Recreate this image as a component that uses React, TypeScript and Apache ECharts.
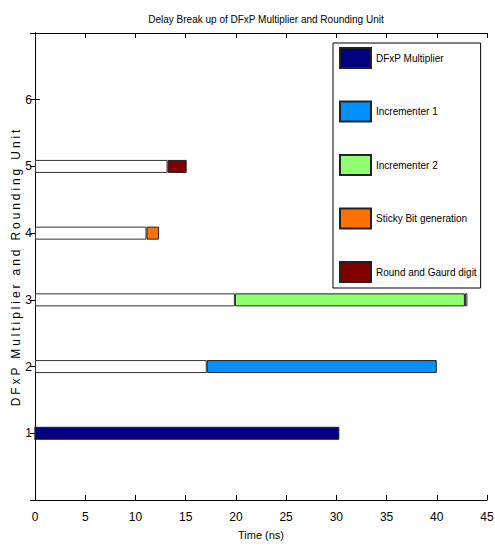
import React, { useEffect, useRef } from "react";
import * as echarts from "echarts";

const yCategories = ["0", "1", "2", "3", "4", "5", "6", "7"];
const blankStart = ["-", 0, 17.1, 19.9, 11.1, 13.2, "-", "-"];
const dfxpMultiplier = ["-", 30.3, "-", "-", "-", "-", "-", "-"];
const incrementer1 = ["-", "-", 22.9, "-", "-", "-", "-", "-"];
const incrementer2 = ["-", "-", "-", 22.9, "-", "-", "-", "-"];
const stickyBit = ["-", "-", "-", "-", 1.25, "-", "-", "-"];
const roundGuard = ["-", "-", "-", "-", "-", 1.9, "-", "-"];
const tailBlank = ["-", "-", "-", 0.25, "-", "-", "-", "-"];

const FONT = "'Liberation Sans Narrow', 'Arial Narrow', 'Liberation Sans', sans-serif";
const Y_NAME = "DFxP Multiplier and Rounding Unit";

export default function App() {
  const ref = useRef<HTMLDivElement>(null);
  useEffect(() => {
    if (!ref.current) return;
    const chart = echarts.init(ref.current, null, { renderer: "svg" });
    const barW = 13;
    const mk = (name: string, data: any[], color: string, border = "#222") => ({
      name,
      type: "bar",
      stack: "total",
      barWidth: barW,
      data,
      itemStyle: { color, borderColor: border, borderWidth: 1 },
      xAxisIndex: 0,
      yAxisIndex: 0,
    });
    chart.setOption({
      animation: false,
      backgroundColor: "#fff",
      textStyle: { fontFamily: FONT },
      title: {
        text: "Delay Break up of DFxP Multiplier and Rounding Unit",
        left: 261,
        top: 9,
        textAlign: "center",
        textStyle: { fontFamily: FONT, fontSize: 10, fontWeight: "normal", color: "#000" },
      },
      grid: { left: 35, right: 8, top: 33, bottom: 48, containLabel: false, outerBoundsMode: "none" },
      legend: {
        orient: "vertical",
        left: 333,
        top: 43,
        icon: "rect",
        itemWidth: 31,
        itemHeight: 20,
        itemGap: 31.5,
        padding: [4, 4, 5, 6],
        borderColor: "#000",
        borderWidth: 1,
        backgroundColor: "#fff",
        textStyle: { fontFamily: FONT, fontSize: 10, color: "#000" },
        data: [
          "DFxP Multiplier",
          "Incrementer 1",
          "Incrementer 2",
          "Sticky Bit generation",
          "Round and Gaurd digit",
        ],
      },
      xAxis: [
        {
          type: "value",
          min: 0,
          max: 45,
          interval: 5,
          position: "bottom",
          name: "Time (ns)",
          nameLocation: "middle",
          nameGap: 29,
          nameTextStyle: { fontFamily: FONT, fontSize: 11, color: "#000" },
          axisLine: { show: true, lineStyle: { color: "#000", width: 1 } },
          axisTick: { show: true, inside: true, length: 5, lineStyle: { color: "#000" } },
          axisLabel: { fontFamily: FONT, fontSize: 12, color: "#000", margin: 11 },
          splitLine: { show: false },
        },
        {
          type: "value",
          min: 0,
          max: 45,
          interval: 5,
          position: "top",
          axisLine: { show: true, lineStyle: { color: "#000", width: 1 } },
          axisTick: { show: true, inside: true, length: 5, lineStyle: { color: "#000" } },
          axisLabel: { show: false },
          splitLine: { show: false },
        },
      ],
      yAxis: [
        {
          type: "category",
          data: yCategories,
          boundaryGap: false,
          position: "left",
          name: Y_NAME,
          nameLocation: "middle",
          nameRotate: 90,
          nameGap: 13,
          nameMoveOverlap: false,
          nameTextStyle: { fontFamily: FONT, fontSize: 12, color: "#000" },
          axisLine: { show: true, lineStyle: { color: "#000", width: 1 } },
          axisTick: { show: true, inside: true, length: 5, lineStyle: { color: "#000" } },
          axisLabel: {
            fontFamily: FONT,
            fontSize: 12,
            color: "#000",
            margin: 3,
            formatter: (v: string) => (v === "0" || v === "7" ? "" : v),
          },
          splitLine: { show: false },
        },
        {
          type: "category",
          data: yCategories,
          boundaryGap: false,
          position: "right",
          axisLine: { show: true, lineStyle: { color: "#000", width: 1 } },
          axisTick: { show: true, inside: true, length: 5, lineStyle: { color: "#000" } },
          axisLabel: { show: false },
          splitLine: { show: false },
        },
      ],
      series: [
        mk("blank", blankStart, "#ffffff", "#333"),
        mk("DFxP Multiplier", dfxpMultiplier, "#000080"),
        mk("Incrementer 1", incrementer1, "#0090ff"),
        mk("Incrementer 2", incrementer2, "#90ff70"),
        mk("Sticky Bit generation", stickyBit, "#ff7000"),
        mk("Round and Gaurd digit", roundGuard, "#800000"),
        mk("tail", tailBlank, "#ffffff", "#222"),
      ],
    });
    const svg = ref.current.querySelector("svg");
    if (svg) {
      svg.querySelectorAll("text").forEach((t) => {
        if (t.textContent === Y_NAME) {
          (t as SVGTextElement).style.letterSpacing = "2.9px";
        }
      });
    }
    return () => chart.dispose();
  }, []);
  return (
    <div
      ref={ref}
      style={{ position: "fixed", left: 0, top: 0, width: 495, height: 548 }}
    />
  );
}
